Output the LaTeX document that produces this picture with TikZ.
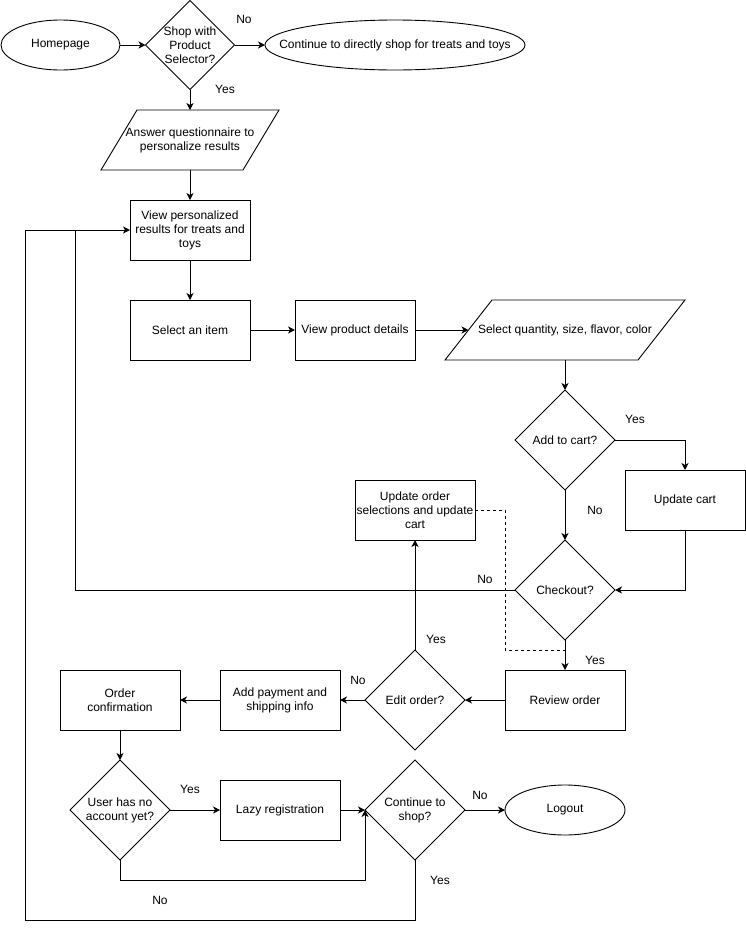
\documentclass[tikz,border=0pt]{standalone}
\usepackage{fontspec}
\setmainfont{Liberation Sans}
\usetikzlibrary{shapes.geometric,arrows.meta,calc}
\begin{document}
\begin{tikzpicture}[x=1pt,y=-1pt,
  every node/.style={font=\fontsize{12}{14}\selectfont, inner sep=0pt, outer sep=0pt},
  line width=0.9pt,
  box/.style={draw, rectangle, minimum width=120pt, minimum height=60pt, align=center},
  dia/.style={draw, diamond, aspect=1, minimum width=100pt, minimum height=100pt, label={[align=center]center:#1}},
  ell/.style={draw, ellipse, label={[align=center]center:#1}},
  para/.style={rectangle, minimum height=60pt, align=center},
  arr/.style={-{Stealth[length=7pt,width=7pt,inset=2pt]}},
  lab/.style={}]
\useasboundingbox (0,0) rectangle (746,930);

% nodes
\node[ell={Homepage}, minimum width=119pt, minimum height=50pt] (hp) at (60.5,45) {};
\node[dia={Shop with\\Product\\Selector?}, minimum width=89pt, minimum height=89pt] (ps) at (190,45) {};
\node[ell={Continue to directly shop for treats and toys}, minimum width=260pt, minimum height=50pt] (cd) at (395,45) {};
\node[para, minimum width=178pt] (aq) at (190,140) {Answer questionnaire to\\personalize results};
\node[box] (vp) at (190,230) {View personalized\\results for treats and\\toys};
\node[box] (si) at (190,330) {Select an item};
\node[box] (pd) at (355,330) {View product details};
\node[para, minimum width=240pt] (sq) at (565,330) {Select quantity, size, flavor, color};
\node[dia={Add to cart?}] (ac) at (565,440) {};
\node[box] (uc) at (685,500) {Update cart};
\node[dia={Checkout?}] (co) at (565,590) {};
\node[box] (uo) at (415,510) {Update order\\selections and update\\cart};
\node[box] (ro) at (565,700) {Review order};
\node[dia={Edit order?}] (eo) at (415,700) {};
\node[box] (ap) at (280,700) {Add payment and\\shipping info};
\node[box] (oc) at (120,700) {Order\\confirmation};
\node[dia={User has no\\account yet?}] (ua) at (120,810) {};
\node[box] (lr) at (280,810) {Lazy registration};
\node[dia={Continue to\\shop?}] (cs) at (415,810) {};
\node[ell={Logout}, minimum width=120pt, minimum height=50pt] (lo) at (565,810) {};

% parallelograms
\draw ($(aq.north west)+(36,0)$) -- (aq.north east) -- ($(aq.south east)+(-36,0)$) -- (aq.south west) -- cycle;
\draw ($(sq.north west)+(47,0)$) -- (sq.north east) -- ($(sq.south east)+(-47,0)$) -- (sq.south west) -- cycle;

% helper coordinates
\coordinate (sqw) at ($(sq.west)+(23.5,0)$);
\coordinate (lpin) at ([xshift=-55pt]vp.west);
\coordinate (lpout) at ([xshift=-105pt]vp.west);
\coordinate (dj) at ([yshift=-10pt]co.south);

% connectors
\draw[arr] (hp.east) -- (ps.west);
\draw[arr] (ps.east) -- (cd.west);
\draw[arr] (ps.south) -- (aq.north);
\draw[arr] (aq.south) -- (vp.north);
\draw[arr] (vp.south) -- (si.north);
\draw[arr] (si.east) -- (pd.west);
\draw[arr] (pd.east) -- (sqw);
\draw[arr] (sq.south) -- (ac.north);
\draw[arr] (ac.east) -| (uc.north);
\draw[arr] (ac.south) -- (co.north);
\draw[arr] (uc.south) |- (co.east);
\draw (co.west) -| (lpin);
\draw[arr] (co.south) -- (ro.north);
\draw[dashed] (uo.east) -- ++(30,0) |- (dj);
\draw[arr] (ro.west) -- (eo.east);
\draw[arr] (eo.north) -- (uo.south);
\draw[arr] (eo.west) -- (ap.east);
\draw[arr] (ap.west) -- (oc.east);
\draw[arr] (oc.south) -- (ua.north);
\draw[arr] (ua.east) -- (lr.west);
\draw[arr] (lr.east) -- (cs.west);
\draw[arr] (ua.south) -- ++(0,20) -| (cs.west);
\draw[arr] (cs.east) -- (lo.west);
\draw[arr] (cs.south) -- ++(0,60) -| (lpout) -- (vp.west);

% yes / no labels
\node[lab] (n1) at (244,19) {No};
\node[lab] (y1) at (225,89) {Yes};
\node[lab] (y2) at (635,419) {Yes};
\node[lab] (n2) at (595,510) {No};
\node[lab] (n3) at (485,579) {No};
\node[lab] (y3) at (595,660) {Yes};
\node[lab] (y4) at (436,639) {Yes};
\node[lab] (n4) at (358,680) {No};
\node[lab] (y5) at (190,789) {Yes};
\node[lab] (n5) at (480,795) {No};
\node[lab] (n6) at (160,900) {No};
\node[lab] (y6) at (440,880) {Yes};
\end{tikzpicture}
\end{document}
